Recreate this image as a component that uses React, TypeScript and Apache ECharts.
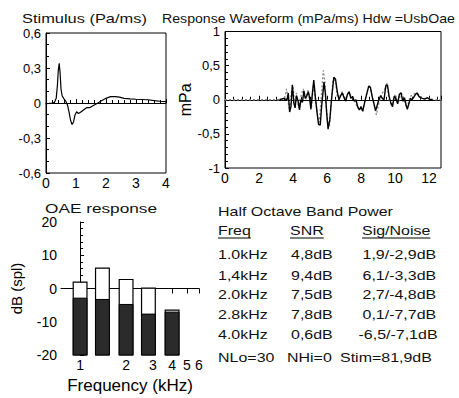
import React, { useEffect, useRef } from "react";
import * as echarts from "echarts";

const FONT = '"Liberation Sans", Arial, Helvetica, sans-serif';

// Stimulus waveform (time ms, Pa)
const stimulusPoints: [number, number][] = [
  [0, -0.005], [0.1, -0.004], [0.2, -0.002], [0.28, 0.005], [0.34, 0.04], [0.38, 0.15],
  [0.41, 0.28], [0.44, 0.34], [0.47, 0.26], [0.5, 0.12], [0.54, 0.06], [0.6, 0.035],
  [0.66, 0.015], [0.72, -0.02], [0.77, -0.08], [0.82, -0.15], [0.87, -0.185], [0.92, -0.16],
  [0.97, -0.1], [1.02, -0.075], [1.08, -0.09], [1.15, -0.08], [1.25, -0.06], [1.35, -0.04],
  [1.45, -0.04], [1.55, -0.025], [1.7, -0.005], [1.85, 0.02], [2.0, 0.04], [2.15, 0.055],
  [2.3, 0.055], [2.45, 0.05], [2.6, 0.04], [2.8, 0.035], [3.0, 0.032], [3.2, 0.03],
  [3.4, 0.028], [3.6, 0.02], [3.8, 0.015], [4.0, 0.012],
];

// Response waveform, buffer A (solid black)
const responseBlack: [number, number][] = [
  [3.2, 0], [3.3, 0.01], [3.45, 0.02], [3.55, 0.01], [3.65, 0.0], [3.72, 0.1], [3.8, -0.18],
  [3.88, -0.1], [3.96, 0.22], [4.05, -0.05], [4.12, -0.12], [4.2, 0.06], [4.3, -0.02],
  [4.38, -0.15], [4.46, 0.0], [4.55, -0.04], [4.64, 0.13], [4.72, 0.02], [4.8, 0.05],
  [4.9, 0.12], [4.98, 0.02], [5.05, -0.14], [5.12, 0.05], [5.22, 0.29], [5.32, 0.02],
  [5.42, -0.2], [5.5, -0.36], [5.6, -0.37], [5.68, -0.1], [5.82, 0.26], [5.9, 0.1],
  [5.98, -0.2], [6.06, -0.43], [6.16, -0.3], [6.26, 0.0], [6.4, 0.33], [6.5, 0.3],
  [6.6, 0.12], [6.7, 0.0], [6.8, 0.06], [6.9, 0.1], [7.0, 0.03], [7.1, -0.02], [7.2, 0.08],
  [7.3, 0.12], [7.4, 0.02], [7.5, 0.05], [7.6, -0.02], [7.7, 0.0], [7.8, -0.1], [7.9, -0.15],
  [8.0, -0.1], [8.1, -0.17], [8.2, -0.05], [8.3, 0.05], [8.45, 0.2], [8.55, 0.18],
  [8.65, 0.05], [8.75, -0.05], [8.85, -0.16], [8.95, -0.08], [9.05, 0.0], [9.15, 0.06],
  [9.25, 0.02], [9.35, 0.0], [9.45, 0.2], [9.55, 0.22], [9.65, 0.05], [9.75, -0.05],
  [9.85, -0.1], [9.95, 0.05], [10.05, 0.02], [10.15, -0.06], [10.25, 0.08], [10.35, 0.1],
  [10.45, -0.02], [10.55, 0.03], [10.65, -0.08], [10.72, -0.14], [10.82, -0.05],
  [10.9, 0.02], [11.0, 0.0], [11.1, 0.04], [11.2, 0.08], [11.3, 0.1], [11.4, 0.05],
  [11.5, 0.03], [11.6, 0.02], [11.75, 0.01], [11.9, 0.03], [12.0, 0.01], [12.2, 0.0],
];

// Response waveform, buffer B (grey dotted)
const responseGrey: [number, number][] = [
  [0, 0], [3.3, 0], [3.5, 0.02], [3.62, 0.16], [3.72, -0.05], [3.8, -0.15], [3.9, 0.1],
  [4.0, 0.2], [4.1, -0.1], [4.2, 0.1], [4.32, -0.12], [4.42, 0.02], [4.6, 0.16], [4.75, 0.0],
  [4.88, 0.14], [5.0, -0.05], [5.08, -0.12], [5.2, 0.22], [5.3, 0.05], [5.45, -0.25],
  [5.55, -0.33], [5.65, 0.0], [5.78, 0.43], [5.88, 0.25], [5.95, -0.1], [6.05, -0.35],
  [6.15, -0.38], [6.25, -0.05], [6.35, 0.3], [6.48, 0.28], [6.6, 0.05], [6.75, 0.05],
  [6.9, 0.12], [7.05, 0.0], [7.25, 0.1], [7.45, 0.05], [7.6, 0.0], [7.8, -0.12],
  [8.0, -0.15], [8.15, -0.1], [8.35, 0.12], [8.5, 0.22], [8.7, 0.0], [8.9, -0.22],
  [9.05, -0.05], [9.2, 0.08], [9.4, 0.15], [9.5, 0.25], [9.65, 0.0], [9.8, -0.08],
  [10.0, 0.08], [10.2, -0.04], [10.35, 0.12], [10.5, 0.0], [10.7, -0.12], [10.9, 0.05],
  [11.2, 0.1], [11.4, 0.06], [11.7, 0.02], [12.0, 0.02], [12.3, 0], [12.7, 0],
];

// Half octave bands (kHz) with signal and noise levels (dB SPL)
const bandFreqs = [1.0, 1.4, 2.0, 2.8, 4.0];
const bandSignal = [1.9, 6.1, 2.7, 0.1, -6.5];
const bandNoise = [-2.9, -3.3, -4.8, -7.7, -7.1];
const freqTicks = [1, 2, 3, 4, 5, 6];

// Table texts
const tableFreq = ["1.0kHz", "1,4kHz", "2.0kHz", "2.8kHz", "4.0kHz"];
const tableSNR = ["4,8dB", "9,4dB", "7,5dB", "7,8dB", "0,6dB"];
const tableSigNoise = ["1,9/-2,9dB", "6,1/-3,3dB", "2,7/-4,8dB", "0,1/-7,7dB", "-6,5/-7,1dB"];
const footer = ["NLo=30", "NHi=0", "Stim=81,9dB"];

const comma = (v: number) => String(v).replace(".", ",");

function measure(text: string, size: number): number {
  const c = document.createElement("canvas").getContext("2d");
  if (!c) return text.length * size * 0.55;
  c.font = `${size}px ${FONT}`;
  return c.measureText(text).width;
}

export default function App() {
  const ref = useRef<HTMLDivElement>(null);

  useEffect(() => {
    document.body.style.margin = "0";
    if (!ref.current) return;
    const chart = echarts.init(ref.current, null, { renderer: "svg" });

    const TS = 12; // table font size
    const tableScale = 175 / measure("Half Octave Band Power", TS);

    const baseStyle = (text: string, size: number) => ({
      text,
      fontSize: size,
      fontFamily: FONT,
      fontWeight: "normal",
      fill: "#111",
      textAlign: "left",
      textVerticalAlign: "middle",
    });
    const fitText = (text: string, x: number, y: number, size: number, width: number) => ({
      type: "text",
      x,
      y,
      scaleX: width / measure(text, size),
      style: baseStyle(text, size),
    });
    const tText = (text: string, x: number, y: number) => ({
      type: "text",
      x,
      y,
      scaleX: tableScale,
      style: baseStyle(text, TS),
    });
    const underline = (text: string, x: number, y: number) => ({
      type: "line",
      shape: { x1: x, y1: y, x2: x + measure(text, TS) * tableScale, y2: y },
      style: { stroke: "#000", lineWidth: 1 },
    });

    const rowsY = [254.5, 275.5, 294.5, 314.5, 334.5];
    const graphics: any[] = [
      fitText("Stimulus (Pa/ms)", 22, 19, 13, 125),
      fitText("Response Waveform (mPa/ms) Hdw =UsbOae", 162, 19, 13, 293),
      fitText("OAE response", 45, 208, 13.5, 112),
      tText("Half Octave Band Power", 218, 211.5),
      tText("Freq", 218, 230.5),
      tText("SNR", 290, 230.5),
      tText("Sig/Noise", 362, 230.5),
      underline("Freq", 218, 238),
      underline("SNR", 290, 238),
      underline("Sig/Noise", 362, 238),
    ];
    rowsY.forEach((y, i) => {
      graphics.push(tText(tableFreq[i], 218, y));
      graphics.push(tText(tableSNR[i], 291, y));
      graphics.push(tText(tableSigNoise[i], tableSigNoise[i].startsWith("-") ? 358.5 : 362.5, y));
    });
    graphics.push(tText(footer[0], 218, 358));
    graphics.push(tText(footer[1], 287, 358));
    graphics.push(tText(footer[2], 340, 358));

    const axisLine = { show: true, lineStyle: { color: "#000", width: 1 } };
    const labelStyle = { color: "#000", fontFamily: FONT, fontSize: 13 };

    const HALF = 0.045; // half bar width in decades
    const logMin = Math.log10(0.75);
    const logMax = Math.log10(6.0);
    const logTicks = freqTicks.map((f) => Math.log10(f));

    chart.setOption({
      animation: false,
      backgroundColor: "#fff",
      textStyle: { fontFamily: FONT },
      grid: [
        { left: 46, top: 33, width: 120, height: 140, show: true, borderColor: "#000", borderWidth: 1, backgroundColor: "transparent" },
        { left: 225, top: 31.5, width: 216, height: 136.5, show: true, borderColor: "#000", borderWidth: 1, backgroundColor: "transparent" },
        { left: 61, top: 222, width: 138, height: 133, show: false },
      ],
      xAxis: [
        {
          gridIndex: 0, type: "value", min: 0, max: 4, interval: 1,
          axisLine, splitLine: { show: false },
          axisTick: { show: true, inside: true, length: 4, lineStyle: { color: "#000" } },
          minorTick: { show: true, splitNumber: 5, length: 3, lineStyle: { color: "#000" } },
          axisLabel: { ...labelStyle, fontSize: 14, margin: 3 },
        },
        {
          gridIndex: 1, type: "value", min: 0, max: 12.7, interval: 2,
          axisLine, splitLine: { show: false },
          axisTick: { show: true, inside: true, length: 4, lineStyle: { color: "#000" } },
          minorTick: { show: true, splitNumber: 4, length: 3, lineStyle: { color: "#000" } },
          axisLabel: {
            ...labelStyle, fontSize: 14, margin: 3,
            formatter: (v: number) => (Math.abs(v % 2) < 1e-6 ? String(v) : ""),
          },
        },
        {
          gridIndex: 2, type: "value", min: logMin, max: logMax,
          axisLine, splitLine: { show: false },
          axisTick: { show: true, inside: false, length: 5, customValues: logTicks, lineStyle: { color: "#000" } },
          axisLabel: {
            ...labelStyle, fontSize: 14, margin: 3, customValues: logTicks,
            formatter: (v: number) => String(Math.round(Math.pow(10, v))),
          },
          name: "Frequency (kHz)", nameLocation: "middle", nameGap: 22,
          nameTextStyle: { color: "#000", fontFamily: FONT, fontSize: 17 },
        },
      ],
      yAxis: [
        {
          gridIndex: 0, type: "value", min: -0.6, max: 0.6, interval: 0.3,
          axisLine, splitLine: { show: false },
          axisTick: { show: true, inside: true, length: 4, lineStyle: { color: "#000" } },
          minorTick: { show: true, splitNumber: 3, length: 3, lineStyle: { color: "#000" } },
          axisLabel: { ...labelStyle, margin: 5, formatter: (v: number) => comma(Math.round(v * 10) / 10) },
        },
        {
          gridIndex: 1, type: "value", min: -1, max: 1, interval: 0.5,
          axisLine, splitLine: { show: false },
          axisTick: { show: true, inside: true, length: 4, lineStyle: { color: "#000" } },
          minorTick: { show: true, splitNumber: 5, length: 3, lineStyle: { color: "#000" } },
          axisLabel: { ...labelStyle, margin: 5, formatter: (v: number) => comma(v) },
          name: "mPa", nameLocation: "middle", nameGap: 21,
          nameTextStyle: { color: "#000", fontFamily: FONT, fontSize: 16 },
        },
        {
          gridIndex: 2, type: "value", min: -20, max: 20, interval: 10,
          axisLine, splitLine: { show: false },
          axisTick: { show: true, inside: true, length: 4, lineStyle: { color: "#000" } },
          minorTick: { show: true, splitNumber: 5, length: 3, lineStyle: { color: "#000" } },
          axisLabel: { ...labelStyle, fontSize: 14, margin: 4 },
          name: "dB (spl)", nameLocation: "middle", nameGap: 37,
          nameTextStyle: { color: "#000", fontFamily: FONT, fontSize: 15 },
        },
      ],
      series: [
        {
          type: "line", xAxisIndex: 0, yAxisIndex: 0, data: stimulusPoints,
          showSymbol: false, lineStyle: { color: "#000", width: 1.2 },
        },
        {
          type: "line", xAxisIndex: 1, yAxisIndex: 1, data: responseGrey,
          showSymbol: false, lineStyle: { color: "#888", width: 1.3, type: [2, 2] },
        },
        {
          type: "line", xAxisIndex: 1, yAxisIndex: 1, data: responseBlack,
          showSymbol: false, lineStyle: { color: "#000", width: 1.4 },
        },
        {
          type: "custom", xAxisIndex: 2, yAxisIndex: 2, clip: false,
          data: bandFreqs.map((f, i) => [Math.log10(f), bandSignal[i], bandNoise[i]]),
          encode: { x: 0, y: 1 },
          renderItem: (_p: any, api: any) => {
            const c = api.value(0);
            const sig = api.value(1);
            const noise = api.value(2);
            const tl = api.coord([c - HALF, sig]);
            const br = api.coord([c + HALF, -20]);
            const nt = api.coord([c - HALF, noise]);
            return {
              type: "group",
              children: [
                {
                  type: "rect",
                  shape: { x: tl[0], y: tl[1], width: br[0] - tl[0], height: br[1] - tl[1] },
                  style: { fill: "#fff", stroke: "#000", lineWidth: 1.2 },
                },
                {
                  type: "rect",
                  shape: { x: nt[0], y: nt[1], width: br[0] - nt[0], height: br[1] - nt[1] },
                  style: { fill: "#2b2b2b", stroke: "#000", lineWidth: 1 },
                },
              ],
            };
          },
        },
      ],
      graphic: graphics,
    });

    return () => chart.dispose();
  }, []);

  return <div ref={ref} style={{ width: 459, height: 398 }} />;
}
